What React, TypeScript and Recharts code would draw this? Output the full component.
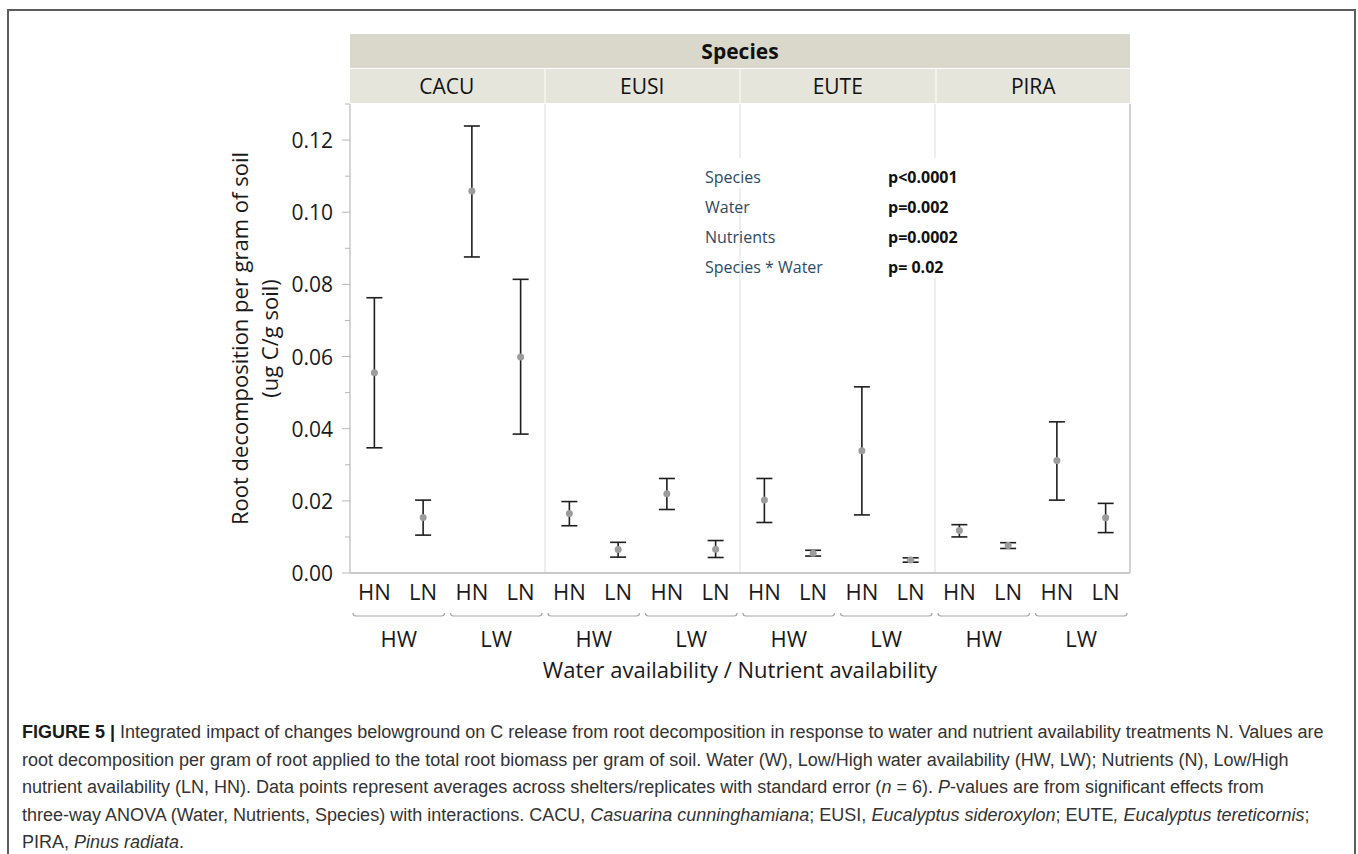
import React from "react";
import {
  ScatterChart,
  Scatter,
  XAxis,
  YAxis,
  ErrorBar,
  ReferenceLine,
  Label,
} from "recharts";

// Species panels, then water / nutrient levels inside each panel
const species = ["CACU", "EUSI", "EUTE", "PIRA"];
const water = ["HW", "LW"];
const nutrients = ["HN", "LN"];

// Root decomposition per gram of soil (ug C/g soil), order: species > water > nutrient
const means = [
  0.0555, 0.0154, 0.1059, 0.0599,
  0.0165, 0.0065, 0.022, 0.0066,
  0.0202, 0.0055, 0.0339, 0.0036,
  0.0118, 0.0076, 0.0312, 0.0153,
];
const lower = [
  0.0347, 0.0105, 0.0876, 0.0385,
  0.0131, 0.0044, 0.0176, 0.0043,
  0.014, 0.0047, 0.0161, 0.003,
  0.01, 0.0068, 0.0202, 0.0112,
];
const upper = [
  0.0763, 0.0202, 0.1239, 0.0814,
  0.0198, 0.0085, 0.0262, 0.009,
  0.0262, 0.0063, 0.0516, 0.0042,
  0.0134, 0.0084, 0.0419, 0.0193,
];

const yTicks = [0, 0.01, 0.02, 0.03, 0.04, 0.05, 0.06, 0.07, 0.08, 0.09, 0.1, 0.11, 0.12, 0.13];

const effectNames = ["Species", "Water", "Nutrients", "Species * Water"];
const effectP = ["p<0.0001", "p=0.002", "p=0.0002", "p= 0.02"];

const rows = means.map((m, i) => ({
  x: i,
  species: species[Math.floor(i / 4)],
  water: water[Math.floor(i / 2) % 2],
  nutrient: nutrients[i % 2],
  mean: m,
  err: [m - lower[i], upper[i] - m],
}));

// layout
const W = 1358;
const H = 854;
const PLOT_L = 350;
const PLOT_R = 1130;
const PLOT_T = 104;
const PLOT_B = 573;
const BAND = (PLOT_R - PLOT_L) / rows.length;
const FONT = "'Open Sans', 'Noto Sans', sans-serif";
const CAP_FONT = "'Liberation Sans', Arial, sans-serif";

function XTick(props: any) {
  const { x, y, payload } = props;
  const r = rows[payload.value];
  if (!r) return null;
  const out = [
    <text key="n" x={x} y={y + 18} textAnchor="middle" dominantBaseline="central"
      fontSize={22} fontFamily={FONT} fill="#1a1a1a">{r.nutrient}</text>,
  ];
  if (payload.value % 2 === 1) {
    const x1 = x - 1.5 * BAND + 3;
    const x2 = x + 0.5 * BAND - 3;
    const by = y + 43;
    out.push(
      <path key="b" d={`M${x1},${by - 3} Q${x1},${by} ${x1 + 3},${by} L${x2 - 3},${by} Q${x2},${by} ${x2},${by - 3}`}
        fill="none" stroke="#a8a8a8" strokeWidth={1.2} />,
      <text key="w" x={x - 0.5 * BAND} y={by + 22} textAnchor="middle" dominantBaseline="central"
        fontSize={22} fontFamily={FONT} fill="#1a1a1a">{r.water}</text>
    );
  }
  return <g>{out}</g>;
}

function YTick(props: any) {
  const { x, y, payload } = props;
  const v = payload.value as number;
  const major = Math.round(v * 100) % 2 === 0;
  return (
    <g>
      <line x1={x - (major ? 8 : 5)} x2={x} y1={y} y2={y} stroke="#b8b8b8" strokeWidth={1} />
      {major && (
        <text x={x - 17} y={y} textAnchor="end" dominantBaseline="central"
          fontSize={21} fontFamily={FONT} fill="#1a1a1a">{v.toFixed(2)}</text>
      )}
    </g>
  );
}

const Dot = (p: any) => <circle cx={p.cx} cy={p.cy} r={3.5} fill="#9c9c9c" />;

export default function App() {
  return (
    <div style={{ position: "absolute", left: 0, top: 0, width: W, height: H, background: "#fff", overflow: "hidden" }}>
      <div style={{ position: "absolute", left: 7, top: 9, width: 1345, height: 900, border: "2px solid #5c5c5c" }} />

      <div style={{ position: "absolute", left: 0, top: 0 }}>
        <ScatterChart width={W} height={H} margin={{ top: PLOT_T, right: W - PLOT_R, bottom: H - PLOT_B - 110, left: PLOT_L - 120 }}>
          <XAxis
            type="number"
            dataKey="x"
            domain={[-0.5, rows.length - 0.5]}
            ticks={rows.map((r) => r.x)}
            interval={0}
            tick={<XTick />}
            tickLine={false}
            tickSize={0}
            tickMargin={0}
            height={110}
            stroke="#c9c9c9"
            strokeWidth={2}
          >
            <Label
              content={(p: any) => {
                const vb = p.viewBox;
                return (
                  <text x={vb.x + vb.width / 2} y={vb.y + 96} textAnchor="middle" dominantBaseline="central"
                    fontSize={22} fontFamily={FONT} fill="#1a1a1a">
                    Water availability / Nutrient availability
                  </text>
                );
              }}
            />
          </XAxis>
          <YAxis
            type="number"
            dataKey="mean"
            domain={[0, 0.13]}
            ticks={yTicks}
            interval={0}
            tick={<YTick />}
            tickLine={false}
            tickSize={0}
            tickMargin={0}
            width={120}
            stroke="#c9c9c9"
            strokeWidth={1.5}
          >
            <Label
              content={(p: any) => {
                const vb = p.viewBox;
                const cy = vb.y + vb.height / 2;
                const lines = ["Root decomposition per gram of soil", "(ug C/g soil)"];
                return (
                  <g>
                    {lines.map((t, k) => {
                      const lx = vb.x + 9 + k * 30;
                      return (
                        <text key={k} x={lx} y={cy} transform={`rotate(-90 ${lx} ${cy})`} textAnchor="middle"
                          dominantBaseline="central" fontSize={22} fontFamily={FONT} fill="#1a1a1a">{t}</text>
                      );
                    })}
                  </g>
                );
              }}
            />
          </YAxis>
          {[3.5, 7.5, 11.5].map((v) => (
            <ReferenceLine key={v} x={v} stroke="#e2e2e2" strokeWidth={1.2} />
          ))}
          <ReferenceLine x={rows.length - 0.5} stroke="#c4c4c4" strokeWidth={1.5} />
          <Scatter data={rows} shape={Dot} isAnimationActive={false}>
            <ErrorBar dataKey="err" direction="y" width={8} stroke="#1e1e1e" strokeWidth={1.6} isAnimationActive={false} />
          </Scatter>
        </ScatterChart>
      </div>

      {/* facet header */}
      <div style={{ position: "absolute", left: PLOT_L, top: 34, width: PLOT_R - PLOT_L, height: 34, background: "#d9d8cb",
        fontFamily: FONT, fontWeight: 700, fontSize: 21, lineHeight: "34px", textAlign: "center", color: "#111" }}>
        Species
      </div>
      <div style={{ position: "absolute", left: PLOT_L, top: 69, width: PLOT_R - PLOT_L, height: 34, display: "flex", background: "#f2f1ea" }}>
        {species.map((s, k) => (
          <div key={s} style={{ flex: 1, marginLeft: k === 0 ? 0 : 2, background: "#e6e5db", fontFamily: FONT, fontSize: 21,
            lineHeight: "34px", textAlign: "center", color: "#111" }}>{s}</div>
        ))}
      </div>

      {/* ANOVA annotation (pasted box hides the panel lines behind it) */}
      <div style={{ position: "absolute", left: 700, top: 158, width: 60, height: 30, background: "#fff" }} />
      <div style={{ position: "absolute", left: 880, top: 158, width: 95, height: 120, background: "#fff" }} />
      {effectNames.map((n, k) => (
        <React.Fragment key={n}>
          <div style={{ position: "absolute", left: 705, top: 166 + k * 30, fontFamily: FONT, fontSize: 16, lineHeight: "22px", color: "#2d4a64", whiteSpace: "nowrap" }}>{n}</div>
          <div style={{ position: "absolute", left: 888, top: 166 + k * 30, fontFamily: FONT, fontSize: 16, fontWeight: 700, lineHeight: "22px", color: "#111", whiteSpace: "nowrap" }}>{effectP[k]}</div>
        </React.Fragment>
      ))}

      {/* caption */}
      <div style={{ position: "absolute", left: 22, top: 719, fontFamily: CAP_FONT, fontSize: 18, lineHeight: "27.6px",
        color: "#333", whiteSpace: "nowrap" }}>
        <div><b style={{ color: "#1a1a1a" }}>FIGURE 5 |</b> Integrated impact of changes belowground on C release from root decomposition in response to water and nutrient availability treatments N. Values are</div>
        <div>root decomposition per gram of root applied to the total root biomass per gram of soil. Water (W), Low/High water availability (HW, LW); Nutrients (N), Low/High</div>
        <div>nutrient availability (LN, HN). Data points represent averages across shelters/replicates with standard error (<i>n</i> = 6). <i>P</i>-values are from significant effects from</div>
        <div>three-way ANOVA (Water, Nutrients, Species) with interactions. CACU, <i>Casuarina cunninghamiana</i>; EUSI, <i>Eucalyptus sideroxylon</i>; EUTE<i>, Eucalyptus tereticornis</i>;</div>
        <div>PIRA, <i>Pinus radiata</i>.</div>
      </div>
    </div>
  );
}
